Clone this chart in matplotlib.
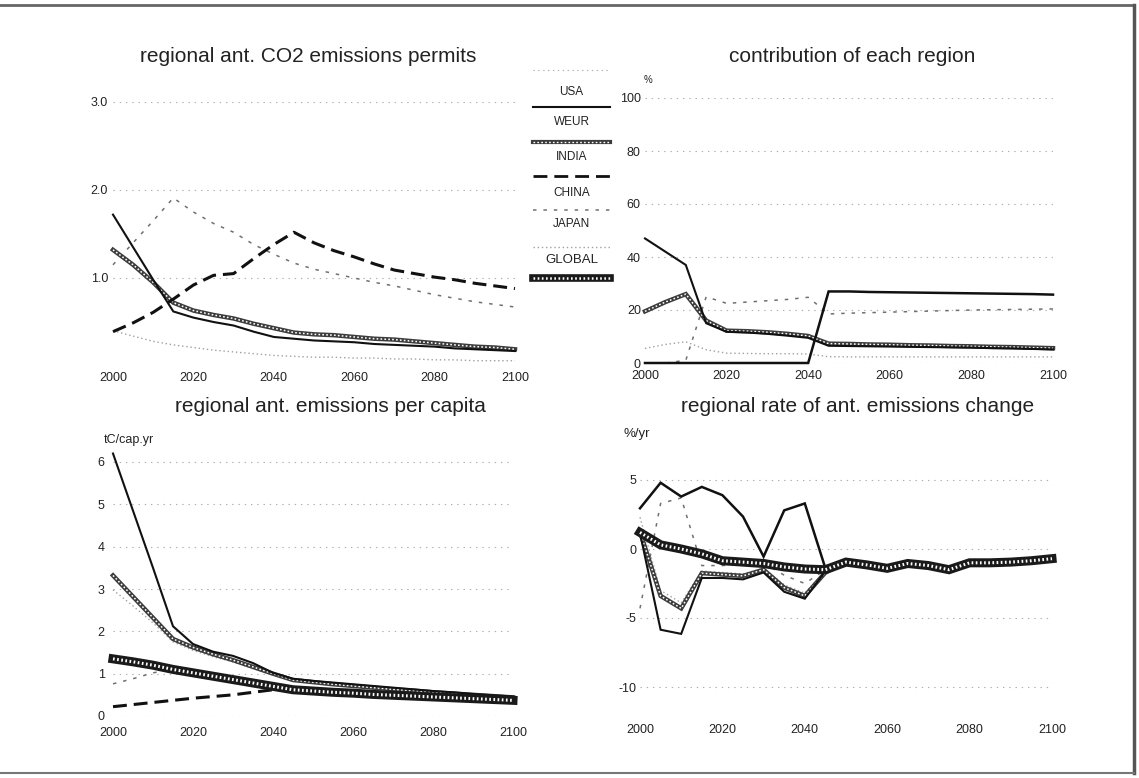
import matplotlib
matplotlib.use("Agg")
import matplotlib.pyplot as plt
from matplotlib.lines import Line2D

plt.rcParams['font.family'] = ['Liberation Sans', 'DejaVu Sans']
plt.rcParams['axes.unicode_minus'] = False
plt.rcParams['lines.scale_dashes'] = False

W, H = 1139, 778

years = list(range(2000, 2101, 5))
regions = ['USA', 'WEUR', 'INDIA', 'CHINA', 'JAPAN', 'GLOBAL']

# ---- panel 1: regional ant. CO2 emissions permits
permits_usa = [1.72, 1.35, 0.98, 0.62, 0.55, 0.50, 0.46, 0.39, 0.33, 0.31, 0.29, 0.28, 0.27, 0.25, 0.24, 0.23, 0.22, 0.20, 0.19, 0.18, 0.17]
permits_weur = [1.32, 1.15, 0.95, 0.72, 0.63, 0.58, 0.54, 0.48, 0.43, 0.38, 0.36, 0.35, 0.33, 0.31, 0.30, 0.28, 0.26, 0.24, 0.22, 0.21, 0.19]
permits_india = [0.39, 0.49, 0.61, 0.76, 0.92, 1.03, 1.05, 1.22, 1.38, 1.52, 1.40, 1.31, 1.24, 1.16, 1.09, 1.05, 1.01, 0.98, 0.94, 0.91, 0.88]
permits_china = [1.15, 1.40, 1.65, 1.91, 1.75, 1.62, 1.52, 1.38, 1.27, 1.17, 1.10, 1.05, 1.00, 0.95, 0.91, 0.86, 0.81, 0.77, 0.73, 0.70, 0.67]
permits_japan = [0.40, 0.34, 0.28, 0.24, 0.21, 0.18, 0.16, 0.14, 0.12, 0.11, 0.10, 0.10, 0.09, 0.09, 0.08, 0.08, 0.07, 0.07, 0.06, 0.06, 0.06]

# ---- panel 2: contribution of each region (%)
contrib_usa = [47, 42, 37, 15, 11.8, 11.5, 11, 10.3, 9.5, 6.5, 6.4, 6.3, 6.2, 6.1, 6.0, 5.9, 5.8, 5.6, 5.5, 5.3, 5.1]
contrib_weur = [19.5, 23, 26, 16, 12.2, 12, 11.6, 11, 10.2, 7.3, 7.2, 7.0, 6.9, 6.7, 6.6, 6.4, 6.3, 6.1, 6.0, 5.8, 5.6]
contrib_india = [0, 0, 0, 0, 0, 0, 0, 0, 0, 27, 27, 26.8, 26.7, 26.6, 26.5, 26.4, 26.3, 26.2, 26.1, 26.0, 25.8]
contrib_china = [0, 0, 1, 25, 22.5, 23, 23.5, 24, 24.8, 18.5, 18.8, 19, 19.2, 19.4, 19.6, 19.8, 20, 20.1, 20.2, 20.3, 20.4]
contrib_japan = [5.5, 7, 8, 5, 3.7, 3.6, 3.5, 3.5, 3.4, 2.4, 2.3, 2.3, 2.3, 2.3, 2.3, 2.3, 2.3, 2.3, 2.3, 2.3, 2.3]

# ---- panel 3: regional ant. emissions per capita (tC/cap.yr)
pc_usa = [6.2, 4.85, 3.5, 2.12, 1.70, 1.52, 1.42, 1.25, 1.02, 0.88, 0.83, 0.79, 0.75, 0.71, 0.67, 0.63, 0.59, 0.56, 0.52, 0.49, 0.46]
pc_weur = [3.32, 2.82, 2.32, 1.82, 1.62, 1.46, 1.32, 1.16, 1.00, 0.85, 0.80, 0.75, 0.71, 0.67, 0.63, 0.60, 0.56, 0.53, 0.50, 0.47, 0.44]
pc_india = [0.22, 0.27, 0.32, 0.37, 0.42, 0.46, 0.50, 0.56, 0.62, 0.60, 0.57, 0.54, 0.52, 0.49, 0.47, 0.45, 0.43, 0.41, 0.39, 0.38, 0.36]
pc_china = [0.76, 0.88, 1.02, 1.10, 1.03, 0.95, 0.87, 0.79, 0.71, 0.63, 0.60, 0.57, 0.54, 0.51, 0.49, 0.47, 0.45, 0.43, 0.41, 0.39, 0.37]
pc_japan = [2.98, 2.6, 2.2, 1.75, 1.55, 1.40, 1.28, 1.12, 0.97, 0.83, 0.78, 0.74, 0.70, 0.66, 0.62, 0.59, 0.55, 0.52, 0.49, 0.46, 0.43]
pc_global = [1.35, 1.28, 1.20, 1.10, 1.02, 0.94, 0.86, 0.78, 0.70, 0.62, 0.59, 0.56, 0.54, 0.51, 0.49, 0.47, 0.45, 0.43, 0.41, 0.39, 0.37]

# ---- panel 4: regional rate of ant. emissions change (%/yr)
rate_usa = [1.15, -5.85, -6.15, -2.1, -2.1, -2.2, -1.7, -3.1, -3.6, -1.6, -0.95, -1.15, -1.4, -1.05, -1.2, -1.5, -1.0, -1.0, -0.95, -0.85, -0.7]
rate_weur = [1.25, -3.4, -4.3, -1.75, -1.85, -1.95, -1.5, -2.8, -3.4, -1.7, -0.95, -1.15, -1.4, -1.05, -1.2, -1.5, -1.0, -1.0, -0.95, -0.85, -0.7]
rate_india = [2.95, 4.8, 3.8, 4.5, 3.9, 2.35, -0.55, 2.8, 3.3, -1.4, -0.95, -1.15, -1.4, -1.05, -1.2, -1.5, -1.0, -1.0, -0.95, -0.85, -0.7]
rate_china = [-4.3, 3.3, 3.7, -1.2, -1.2, -1.1, -1.0, -1.9, -2.5, -1.5, -0.95, -1.15, -1.4, -1.05, -1.2, -1.5, -1.0, -1.0, -0.95, -0.85, -0.7]
rate_japan = [2.3, -3.0, -3.9, -1.6, -1.7, -1.8, -1.4, -2.6, -3.2, -1.6, -0.95, -1.15, -1.4, -1.05, -1.2, -1.5, -1.0, -1.0, -0.95, -0.85, -0.7]
rate_global = [1.2, 0.3, 0.0, -0.35, -0.85, -0.95, -1.05, -1.3, -1.45, -1.5, -0.95, -1.15, -1.4, -1.05, -1.2, -1.5, -1.0, -1.0, -0.95, -0.85, -0.7]

xticks = [2000, 2020, 2040, 2060, 2080, 2100]

fig = plt.figure(figsize=(W / 100, H / 100), dpi=100)
fig.patch.set_facecolor('white')


def place(ax, px0, px1, ya, pa, yb, pb, ylim):
    scale = (pa - pb) / (yb - ya)
    top_px = pa - (ylim[1] - ya) * scale
    bot_px = pa + (ya - ylim[0]) * scale
    ax.set_position([px0 / W, 1 - bot_px / H, (px1 - px0) / W, (bot_px - top_px) / H])
    ax.set_xlim(2000, 2100)
    ax.set_ylim(*ylim)


def style(ax, yticks, ylabels, xpad, ypad):
    for s in ax.spines.values():
        s.set_visible(False)
    ax.set_xticks(xticks)
    ax.set_yticks(yticks)
    ax.set_yticklabels(ylabels)
    ax.tick_params(axis='x', length=0, pad=xpad, labelsize=9, colors='#222')
    ax.tick_params(axis='y', length=0, pad=ypad, labelsize=9, colors='#222')
    for t in yticks:
        ax.axhline(t, color='#b0b0b0', lw=0.8, ls=(0, (1, 3.5)), zorder=0)


def draw(ax, key, y, india_solid=False):
    kw = dict(clip_on=False, solid_joinstyle='miter')
    if key == 'USA':
        ax.plot(years, y, color='#111111', lw=1.5, zorder=5, **kw)
    elif key == 'WEUR':
        ax.plot(years, y, color='#3c3c3c', lw=3.2, zorder=4, **kw)
        ax.plot(years, y, color='white', lw=1.1, ls=(0, (1.2, 1.6)), zorder=4, clip_on=False)
    elif key == 'INDIA':
        if india_solid:
            ax.plot(years, y, color='#111111', lw=1.8, zorder=5, **kw)
        else:
            ax.plot(years, y, color='#111111', lw=2.2, ls=(0, (10, 5)), zorder=5, clip_on=False)
    elif key == 'CHINA':
        ax.plot(years, y, color='#707070', lw=1.1, ls=(0, (2.5, 5)), zorder=3, clip_on=False)
    elif key == 'JAPAN':
        ax.plot(years, y, color='#a0a0a0', lw=1.0, ls=(0, (1, 2)), zorder=2, clip_on=False)
    elif key == 'GLOBAL':
        ax.plot(years, y, color='#1a1a1a', lw=6.5, zorder=6, **kw)
        ax.plot(years, y, color='white', lw=2.2, ls=(0, (1.2, 1.8)), zorder=6, clip_on=False)


# ---- panel 1
ax1 = fig.add_axes([0, 0, 1, 1])
place(ax1, 113, 515, 0, 366, 3, 102, (0, 3.0))
style(ax1, [1, 2, 3], ['1.0', '2.0', '3.0'], 4.0, 3.6)
for k, v in zip(regions[:5], [permits_usa, permits_weur, permits_india, permits_china, permits_japan]):
    draw(ax1, k, v)
fig.text(308 / W, 1 - 57 / H, 'regional ant. CO2 emissions permits', ha='center', va='center', fontsize=15, color='#222')

# ---- panel 2
ax2 = fig.add_axes([0, 0, 1, 1])
place(ax2, 645, 1053, 0, 363, 100, 98, (0, 100))
style(ax2, [0, 20, 40, 60, 80, 100], ['0', '20', '40', '60', '80', '100'], 5.0, 3.0)
for k, v in zip(regions[:5], [contrib_usa, contrib_weur, contrib_india, contrib_china, contrib_japan]):
    draw(ax2, k, v, india_solid=True)
fig.text(852 / W, 1 - 57 / H, 'contribution of each region', ha='center', va='center', fontsize=15, color='#222')
fig.text(648 / W, 1 - 80 / H, '%', ha='center', va='center', fontsize=7, color='#222')

# ---- panel 3
ax3 = fig.add_axes([0, 0, 1, 1])
place(ax3, 113, 513, 0, 716, 6, 462, (0, 6.3))
style(ax3, [0, 1, 2, 3, 4, 5, 6], ['0', '1', '2', '3', '4', '5', '6'], 8.0, 6.0)
for k, v in zip(regions, [pc_usa, pc_weur, pc_india, pc_china, pc_japan, pc_global]):
    draw(ax3, k, v)
fig.text(330 / W, 1 - 407 / H, 'regional ant. emissions per capita', ha='center', va='center', fontsize=15, color='#222')
fig.text(104 / W, 1 - 440 / H, 'tC/cap.yr', ha='left', va='center', fontsize=9, color='#222')

# ---- panel 4
ax4 = fig.add_axes([0, 0, 1, 1])
place(ax4, 640, 1052, 0, 549, 5, 480, (-12, 6.5))
style(ax4, [5, 0, -5, -10], ['5', '0', '-5', '-10'], 7.0, 2.5)
for k, v in zip(regions, [rate_usa, rate_weur, rate_india, rate_china, rate_japan, rate_global]):
    draw(ax4, k, v, india_solid=True)
fig.text(858 / W, 1 - 407 / H, 'regional rate of ant. emissions change', ha='center', va='center', fontsize=15, color='#222')
fig.text(624 / W, 1 - 434 / H, '%/yr', ha='left', va='center', fontsize=9.5, color='#222')

# ---- legend and frame in pixel coordinates
ov = fig.add_axes([0, 0, 1, 1], zorder=10)
ov.set_xlim(0, W)
ov.set_ylim(H, 0)
ov.axis('off')
ov.patch.set_alpha(0)

lx0, lx1 = 533, 610
ov.add_line(Line2D([lx0, lx1], [70, 70], color='#b0b0b0', lw=0.8, ls=(0, (1, 2.5))))
legend_rows = [('USA', 92, 107), ('WEUR', 122, 142), ('INDIA', 157, 176),
               ('CHINA', 193, 210), ('JAPAN', 224, 247), ('GLOBAL', 260, 278)]
for name, ty, ly in legend_rows:
    ov.text((lx0 + lx1) / 2, ty, name, ha='center', va='center',
            fontsize=9.5 if name == 'GLOBAL' else 8.5, color='#222')
    if name == 'USA':
        ov.add_line(Line2D([lx0, lx1], [ly, ly], color='#111', lw=1.5))
    elif name == 'WEUR':
        ov.add_line(Line2D([lx0, lx1], [ly, ly], color='#3c3c3c', lw=3.0))
        ov.add_line(Line2D([lx0, lx1], [ly, ly], color='white', lw=1.0, ls=(0, (1.2, 1.6))))
    elif name == 'INDIA':
        ov.add_line(Line2D([lx0, lx1], [ly, ly], color='#111', lw=2.0, ls=(0, (10, 5))))
    elif name == 'CHINA':
        ov.add_line(Line2D([lx0, lx1], [ly, ly], color='#707070', lw=1.1, ls=(0, (2.5, 5))))
    elif name == 'JAPAN':
        ov.add_line(Line2D([lx0, lx1], [ly, ly], color='#a0a0a0', lw=1.0, ls=(0, (1, 2))))
    elif name == 'GLOBAL':
        ov.add_line(Line2D([lx0, lx1], [ly, ly], color='#1a1a1a', lw=5.5))
        ov.add_line(Line2D([lx0, lx1], [ly, ly], color='white', lw=1.8, ls=(0, (1.2, 1.8))))

# scanned page frame
ov.add_line(Line2D([0, 1134], [5, 5], color='#666', lw=2.0))
ov.add_line(Line2D([1134, 1134], [5, 773], color='#555', lw=2.5))
ov.add_line(Line2D([0, 1134], [773, 773], color='#777', lw=1.5))

fig.savefig('out.png', dpi=100, facecolor='white')
